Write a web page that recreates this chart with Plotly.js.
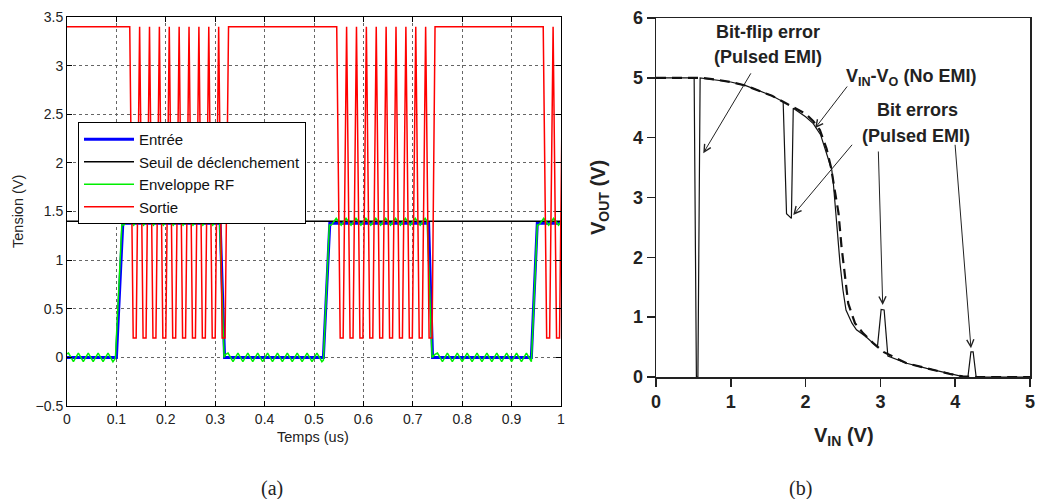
<!DOCTYPE html>
<html>
<head>
<meta charset="utf-8">
<script src="https://cdn.plot.ly/plotly-3.0.1.min.js"></script>
<style>html,body{margin:0;padding:0;background:#fff;}#chart{width:1043px;height:499px;}</style>
</head>
<body>
<div id="chart"></div>
<script>
// ---------- (a) left chart data ----------
const entreeT = [0, 0.100, 0.113, 0.310, 0.319, 0.519, 0.532, 0.732, 0.740, 0.940, 0.952, 1.0];
const entreeV = [0, 0, 1.38, 1.38, 0, 0, 1.38, 1.38, 0, 0, 1.38, 1.38];

const seuilT = [0, 1];
const seuilV = [1.4, 1.4];

const enveloppeT = [
  0,0.003,0.008,0.013,0.018,0.023,0.028,0.033,0.038,0.043,0.048,0.053,0.058,0.063,0.068,0.073,0.078,0.083,0.088,0.093,0.098,
  0.111,0.115,0.120,0.125,0.130,0.135,0.140,0.145,0.150,0.155,0.160,0.165,0.170,0.175,0.180,0.185,0.190,0.195,0.200,0.205,
  0.210,0.215,0.220,0.225,0.230,0.235,0.240,0.245,0.250,0.255,0.260,0.265,0.270,0.275,0.280,0.285,0.290,0.295,0.300,0.305,0.309,
  0.318,0.321,0.326,0.331,0.336,0.341,0.346,0.351,0.356,0.361,0.366,0.371,0.376,0.381,0.386,0.391,0.396,0.401,0.406,0.411,
  0.416,0.421,0.426,0.431,0.436,0.441,0.446,0.451,0.456,0.461,0.466,0.471,0.476,0.481,0.486,0.491,0.496,0.501,0.506,0.511,0.516,0.519,
  0.531,0.535,0.540,0.545,0.550,0.555,0.560,0.565,0.570,0.575,0.580,0.585,0.590,0.595,0.600,0.605,0.610,0.615,0.620,0.625,
  0.630,0.635,0.640,0.645,0.650,0.655,0.660,0.665,0.670,0.675,0.680,0.685,0.690,0.695,0.700,0.705,0.710,0.715,0.720,0.725,0.729,
  0.739,0.745,0.750,0.755,0.760,0.765,0.770,0.775,0.780,0.785,0.790,0.795,0.800,0.805,0.810,0.815,0.820,0.825,0.830,0.835,
  0.840,0.845,0.850,0.855,0.860,0.865,0.870,0.875,0.880,0.885,0.890,0.895,0.900,0.905,0.910,0.915,0.920,0.925,0.930,0.935,0.940,
  0.952,0.955,0.960,0.965,0.970,0.975,0.980,0.985,0.990,0.995,1.0
];
const enveloppeV = [
  0.035,0.045,0,-0.045,0,0.045,0,-0.045,0,0.045,0,-0.045,0,0.045,0,-0.045,0,0.045,0,-0.045,-0.01,
  1.36,1.36,1.395,1.43,1.395,1.36,1.395,1.43,1.395,1.36,1.395,1.43,1.395,1.36,1.395,1.43,1.395,1.36,1.395,1.43,
  1.395,1.36,1.395,1.43,1.395,1.36,1.395,1.43,1.395,1.36,1.395,1.43,1.395,1.36,1.395,1.43,1.395,1.36,1.395,1.43,1.40,
  0,0.03,0.045,0,-0.045,0,0.045,0,-0.045,0,0.045,0,-0.045,0,0.045,0,-0.045,0,0.045,0,
  -0.045,0,0.045,0,-0.045,0,0.045,0,-0.045,0,0.045,0,-0.045,0,0.045,0,-0.045,0,0.045,0,-0.045,-0.03,
  1.36,1.36,1.395,1.43,1.395,1.36,1.395,1.43,1.395,1.36,1.395,1.43,1.395,1.36,1.395,1.43,1.395,1.36,1.395,1.43,
  1.395,1.36,1.395,1.43,1.395,1.36,1.395,1.43,1.395,1.36,1.395,1.43,1.395,1.36,1.395,1.43,1.395,1.36,1.395,1.43,1.40,
  0,0.03,0.045,0,-0.045,0,0.045,0,-0.045,0,0.045,0,-0.045,0,0.045,0,-0.045,0,0.045,0,
  -0.045,0,0.045,0,-0.045,0,0.045,0,-0.045,0,0.045,0,-0.045,0,0.045,0,-0.045,0,0.045,0,-0.045,
  1.36,1.36,1.395,1.43,1.395,1.36,1.395,1.43,1.395,1.36,1.395
];

const sortieT = [
  0,0.127,0.134,0.140,0.147,0.154,0.160,0.167,0.174,0.180,0.187,0.194,0.200,0.207,0.214,0.220,0.227,0.234,0.240,
  0.247,0.254,0.260,0.267,0.274,0.280,0.287,0.294,0.300,0.307,0.314,0.320,0.327,
  0.546,0.553,0.559,0.566,0.573,0.579,0.586,0.593,0.599,0.606,0.613,0.619,0.626,0.633,0.639,0.646,0.653,0.659,
  0.666,0.673,0.679,0.686,0.693,0.699,0.706,0.713,0.719,0.726,0.733,0.739,0.745,
  0.964,0.971,0.977,0.984,0.991,0.997,1.004
];
const sortieV = [
  3.4,3.4,0.2,0.2,3.4,0.2,0.2,3.4,0.2,0.2,3.4,0.2,0.2,3.4,0.2,0.2,3.4,0.2,0.2,
  3.4,0.2,0.2,3.4,0.2,0.2,3.4,0.2,0.2,3.4,0.2,0.2,3.4,
  3.4,0.2,0.2,3.4,0.2,0.2,3.4,0.2,0.2,3.4,0.2,0.2,3.4,0.2,0.2,3.4,0.2,0.2,
  3.4,0.2,0.2,3.4,0.2,0.2,3.4,0.2,0.2,3.4,0.2,0.2,3.4,
  3.4,0.2,0.2,3.4,0.2,0.2,3.4
];

// ---------- (b) right chart data ----------
const pulsedVin  = [0,0.51,0.54,0.56,0.59,0.8,1.0,1.2,1.4,1.55,1.70,1.745,1.81,1.835,2.0,2.1,2.2,2.3,2.35,2.37,2.39,2.42,2.46,2.50,2.54,2.62,2.68,2.80,2.90,2.96,3.01,3.05,3.10,3.35,3.62,3.93,4.06,4.15,4.17,4.21,4.24,4.28,5.0];
const pulsedVout = [5.0,5.0,0,0,5.0,4.97,4.93,4.87,4.78,4.70,4.60,2.73,2.65,4.49,4.35,4.24,4.05,3.68,3.46,3.25,2.96,2.46,1.90,1.45,1.12,0.90,0.79,0.68,0.56,0.50,1.13,1.12,0.35,0.23,0.145,0.05,0.02,0,0,0.42,0.42,0,0];

const noEmiVin  = [0,0.6,0.8,1.0,1.2,1.4,1.55,1.70,1.85,2.0,2.1,2.19,2.28,2.34,2.39,2.44,2.48,2.53,2.57,2.66,2.77,2.90,3.04,3.35,3.62,3.93,4.1,4.3,5.0];
const noEmiVout = [5.0,5.0,4.97,4.93,4.87,4.78,4.70,4.60,4.50,4.40,4.28,4.13,3.82,3.50,3.12,2.74,2.18,1.62,1.23,0.90,0.73,0.57,0.42,0.23,0.145,0.05,0.01,0,0];

const legendNames = ['Entrée', 'Seuil de déclenchement', 'Enveloppe RF', 'Sortie'];

// annotation texts
const labelsB = ['Bit-flip error', '(Pulsed EMI)', 'V<sub>IN</sub>-V<sub>O</sub> (No EMI)', 'Bit errors', '(Pulsed EMI)'];
const labelsBPos = [[1.497,5.77],[1.497,5.35],[3.41,5.01],[3.50,4.46],[3.47,4.02]];
// arrows: [tailX, tailY, tipX, tipY]
const arrowsB = [
  [1.28,5.10,0.632,3.74],
  [2.571,4.88,2.126,4.157],
  [2.638,3.906,1.835,2.708],
  [2.972,3.794,3.031,1.203],
  [3.997,3.906,4.211,0.48]
];

const W = 1043, H = 499;
const SANS = 'Liberation Sans, Arial, Helvetica, sans-serif';

const traces = [
  {x: entreeT, y: entreeV, name: legendNames[0], mode: 'lines', line: {color: '#0000ff', width: 3}, xaxis: 'x', yaxis: 'y'},
  {x: seuilT, y: seuilV, name: legendNames[1], mode: 'lines', line: {color: '#000000', width: 1.5}, xaxis: 'x', yaxis: 'y'},
  {x: enveloppeT, y: enveloppeV, name: legendNames[2], mode: 'lines', line: {color: '#00ee00', width: 1.5}, xaxis: 'x', yaxis: 'y'},
  {x: sortieT, y: sortieV, name: legendNames[3], mode: 'lines', line: {color: '#ff0000', width: 1.5}, xaxis: 'x', yaxis: 'y'},
  {x: noEmiVin, y: noEmiVout, mode: 'lines', line: {color: '#111', width: 2.2, dash: '10px,6px'}, xaxis: 'x2', yaxis: 'y2', showlegend: false, hoverinfo: 'skip'},
  {x: pulsedVin, y: pulsedVout, mode: 'lines', line: {color: '#111', width: 1.2}, xaxis: 'x2', yaxis: 'y2', showlegend: false, hoverinfo: 'skip'}
];

const annotations = [];
labelsB.forEach((t, i) => {
  annotations.push({xref: 'x2', yref: 'y2', x: labelsBPos[i][0], y: labelsBPos[i][1], text: t, showarrow: false,
    xanchor: 'center', yanchor: 'middle', font: {family: SANS, size: 18, weight: 700, color: '#222'}});
});
arrowsB.forEach(a => {
  annotations.push({xref: 'x2', yref: 'y2', axref: 'x2', ayref: 'y2', ax: a[0], ay: a[1], x: a[2], y: a[3], text: '',
    showarrow: true, arrowhead: 5, arrowsize: 1.4, arrowwidth: 1, arrowcolor: '#222', standoff: 0});
});
// axis titles
annotations.push({xref: 'paper', yref: 'paper', x: 18/W, y: 1-212/H, text: 'Tension (V)', textangle: -90, showarrow: false,
  xanchor: 'center', yanchor: 'middle', font: {family: SANS, size: 14.5, color: '#222'}});
annotations.push({xref: 'paper', yref: 'paper', x: 313/W, y: 1-437/H, text: 'Temps (us)', showarrow: false,
  xanchor: 'center', yanchor: 'middle', font: {family: SANS, size: 14.5, color: '#222'}});
annotations.push({xref: 'paper', yref: 'paper', x: 600/W, y: 1-198/H, text: 'V<sub>OUT</sub> (V)', textangle: -90, showarrow: false,
  xanchor: 'center', yanchor: 'middle', font: {family: SANS, size: 20, weight: 700, color: '#222'}});
annotations.push({xref: 'paper', yref: 'paper', x: 844/W, y: 1-436/H, text: 'V<sub>IN</sub> (V)', showarrow: false,
  xanchor: 'center', yanchor: 'middle', font: {family: SANS, size: 20, weight: 700, color: '#222'}});
// panel labels
annotations.push({xref: 'paper', yref: 'paper', x: 272/W, y: 1-488/H, text: '(a)', showarrow: false,
  xanchor: 'center', yanchor: 'middle', font: {family: 'Liberation Serif, Times New Roman, serif', size: 20, color: '#222'}});
annotations.push({xref: 'paper', yref: 'paper', x: 800/W, y: 1-488/H, text: '(b)', showarrow: false,
  xanchor: 'center', yanchor: 'middle', font: {family: 'Liberation Serif, Times New Roman, serif', size: 20, color: '#222'}});

const layout = {
  width: W, height: H,
  margin: {l: 0, r: 0, t: 0, b: 0},
  paper_bgcolor: '#fff', plot_bgcolor: '#fff',
  font: {family: SANS, color: '#222'},
  showlegend: true,
  legend: {x: 78/W, y: 1-122/H, xanchor: 'left', yanchor: 'top', bgcolor: '#fff', bordercolor: '#000', borderwidth: 1,
    font: {family: SANS, size: 15, color: '#111'}, tracegroupgap: 0, itemwidth: 50},
  xaxis: {domain: [67/W, 561/W], range: [0, 1], tick0: 0, dtick: 0.1, anchor: 'y',
    showline: true, linecolor: '#000', linewidth: 1, mirror: 'ticks', ticks: 'inside', ticklen: 5, tickcolor: '#000',
    showgrid: true, gridcolor: '#666', griddash: 'dot', gridwidth: 1, zeroline: false,
    tickfont: {family: SANS, size: 14, color: '#222'}},
  yaxis: {domain: [1-406/H, 1-17/H], range: [-0.5, 3.5], tick0: 0, dtick: 0.5, anchor: 'x',
    showline: true, linecolor: '#000', linewidth: 1, mirror: 'ticks', ticks: 'inside', ticklen: 5, tickcolor: '#000',
    showgrid: true, gridcolor: '#666', griddash: 'dot', gridwidth: 1, zeroline: false,
    tickfont: {family: SANS, size: 14, color: '#222'}},
  xaxis2: {domain: [656/W, 1030/W], range: [0, 5], tick0: 0, dtick: 1, anchor: 'y2',
    showline: true, linecolor: '#222', linewidth: 1.5, mirror: true, ticks: 'outside', ticklen: 8, tickwidth: 1.5, tickcolor: '#222',
    showgrid: false, zeroline: false, tickfont: {family: SANS, size: 18, weight: 700, color: '#222'}},
  yaxis2: {domain: [1-377/H, 1-18/H], range: [0, 6], tick0: 0, dtick: 1, anchor: 'x2',
    showline: true, linecolor: '#222', linewidth: 1.5, mirror: true, ticks: 'outside', ticklen: 8, tickwidth: 1.5, tickcolor: '#222',
    showgrid: false, zeroline: false, tickfont: {family: SANS, size: 18, weight: 700, color: '#222'}},
  annotations: annotations
};

Plotly.newPlot('chart', traces, layout, {displayModeBar: false, staticPlot: true});
</script>
</body>
</html>
